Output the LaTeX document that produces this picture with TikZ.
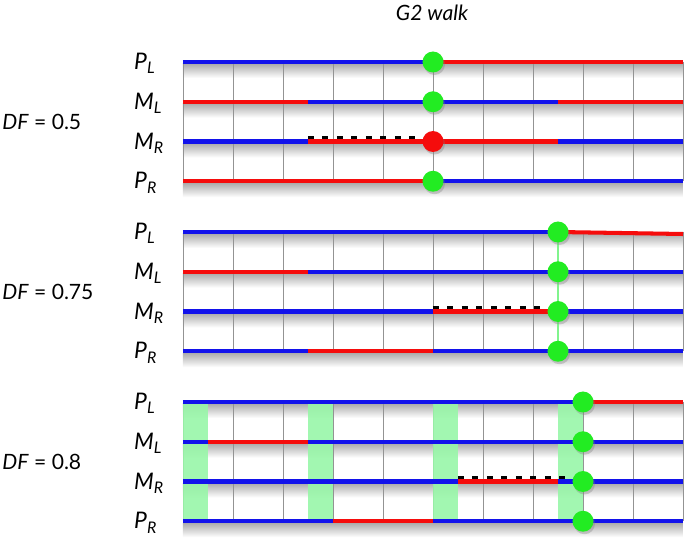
\documentclass[tikz,border=0pt]{standalone}
\usepackage{fontspec}
\setmainfont{Lato}
\usetikzlibrary{shadows}

\definecolor{blu}{RGB}{18,18,235}
\definecolor{rd}{RGB}{245,12,12}
\definecolor{grn}{RGB}{34,236,34}
\definecolor{band}{RGB}{152,246,168}

\tikzset{
  seg/.style={line width=2.3pt},
  gridln/.style={gray!85,line width=0.5pt},
  dsh/.style={line width=2.8pt,black,dash pattern=on 0.12cm off 0.17cm},
  dot/.style={circle,fill=grn,minimum size=0.42cm,inner sep=0pt,
    drop shadow={opacity=0.35,shadow xshift=0.03cm,shadow yshift=-0.05cm}},
  rowlab/.style={anchor=west,font=\fontsize{13}{13}\selectfont\itshape},
  dflab/.style={anchor=west,inner sep=0pt,font=\fontsize{12}{12}\selectfont},
}

% one walk row: y, list of colour/from/to
\newcommand{\walkrow}[2]{%
  \foreach \c/\a/\b in {#2} \draw[seg,draw=\c] (\a,#1) -- (\b,#1);}

% shading, grid and labels of one panel
\newcommand{\panelbase}[2]{%
  \foreach \y in {0,-0.795,-1.59,-2.385}
    \shade[top color=black!32,bottom color=white] (0,\y-0.04) rectangle (10,\y-0.32);
  \foreach \x in {0,...,10} \draw[gridln] (\x,0) -- (\x,-2.385);
  \node[rowlab] (#1pl) at (-1.1,-0.03) {P\textsubscript{L}};
  \node[rowlab] (#1ml) at (-1.1,-0.825) {M\textsubscript{L}};
  \node[rowlab] (#1mr) at (-1.1,-1.62) {M\textsubscript{R}};
  \node[rowlab] (#1pr) at (-1.1,-2.415) {P\textsubscript{R}};
  \node[dflab] (#1df) at (-3.62,-1.2) {#2};}

\begin{document}
\begin{tikzpicture}
\useasboundingbox (-3.66,0) rectangle (10.04,10.96);

\node[font=\fontsize{12}{12}\selectfont\itshape] (title) at (4.98,10.7) {G2 walk};

% DF = 0.5
\begin{scope}[yshift=9.72cm]
  \panelbase{a}{\textit{DF} = 0.5}
  \walkrow{0}{blu/0/5, rd/5/10}
  \walkrow{-0.795}{rd/0/2.5, blu/2.5/7.5, rd/7.5/10}
  \draw[dsh] (2.5,-1.52) -- (5,-1.52);
  \walkrow{-1.59}{blu/0/2.5, rd/2.5/7.5, blu/7.5/10}
  \walkrow{-2.385}{rd/0/5, blu/5/10}
  \node[dot] (a1) at (5,0) {};
  \node[dot] (a2) at (5,-0.795) {};
  \node[dot,fill=rd] (a3) at (5,-1.59) {};
  \node[dot] (a4) at (5,-2.385) {};
\end{scope}

% DF = 0.75
\begin{scope}[yshift=6.32cm]
  \panelbase{b}{\textit{DF} = 0.75}
  \coordinate (b1c) at (7.5,0);
  \coordinate (b4c) at (7.5,-2.385);
  \draw[band!80!grn,line width=1.3pt] (b1c) -- (b4c);
  \draw[seg,blu] (0,0) -- (7.5,0);
  \draw[seg,rd] (7.5,0) -- (10,-0.04);
  \walkrow{-0.795}{rd/0/2.5, blu/2.5/10}
  \draw[dsh] (5,-1.52) -- (7.5,-1.52);
  \walkrow{-1.59}{blu/0/5, rd/5/7.5, blu/7.5/10}
  \walkrow{-2.385}{blu/0/2.5, rd/2.5/5, blu/5/10}
  \node[dot] (b1) at (b1c) {};
  \node[dot] (b2) at (7.5,-0.795) {};
  \node[dot] (b3) at (7.5,-1.59) {};
  \node[dot] (b4) at (b4c) {};
\end{scope}

% DF = 0.8
\begin{scope}[yshift=2.92cm]
  \panelbase{c}{\textit{DF} = 0.8}
  \foreach \x in {0,2.5,5,7.5}
    \fill[band,opacity=0.9] (\x,0) rectangle (\x+0.5,-2.385);
  \walkrow{0}{blu/0/8, rd/8/10}
  \walkrow{-0.795}{blu/0/0.5, rd/0.5/2.5, blu/2.5/10}
  \draw[dsh] (5.5,-1.52) -- (8,-1.52);
  \walkrow{-1.59}{blu/0/5.5, rd/5.5/7.5, blu/7.5/10}
  \walkrow{-2.385}{blu/0/3, rd/3/5, blu/5/10}
  \node[dot] (c1) at (8,0) {};
  \node[dot] (c2) at (8,-0.795) {};
  \node[dot] (c3) at (8,-1.59) {};
  \node[dot] (c4) at (8,-2.385) {};
\end{scope}

\end{tikzpicture}
\end{document}
